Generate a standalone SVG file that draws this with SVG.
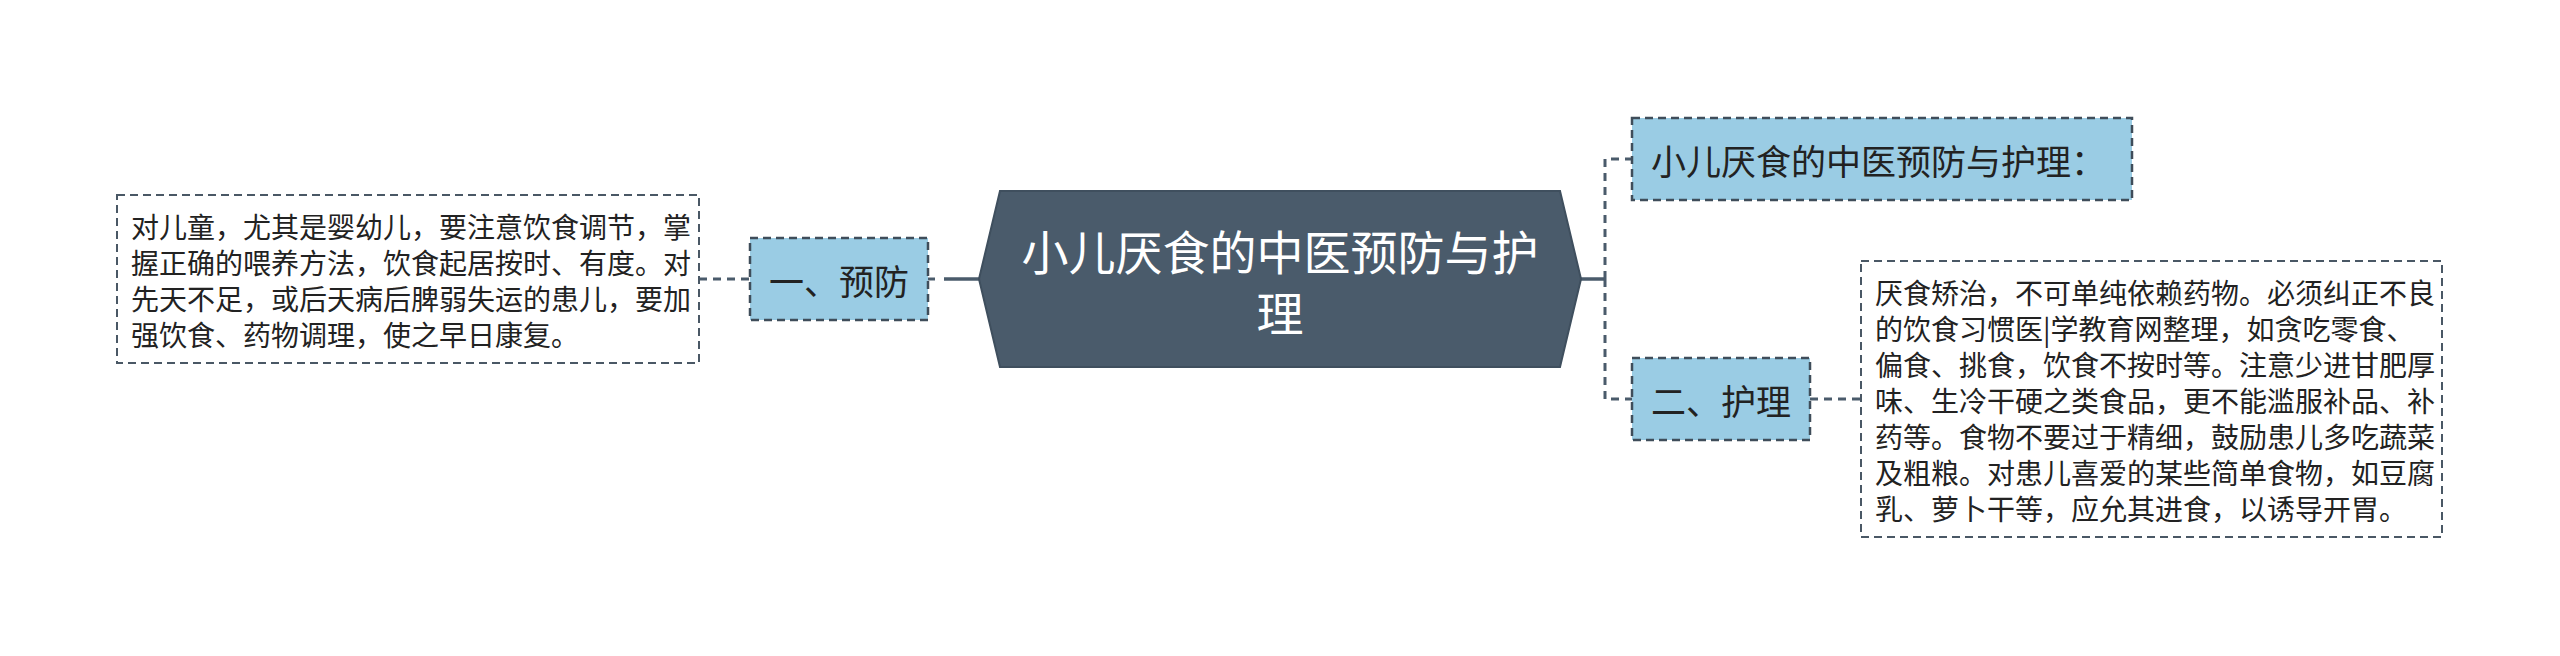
<svg xmlns="http://www.w3.org/2000/svg" width="2560" height="656" viewBox="0 0 2560 656">
<style>
text{font-family:"Noto Sans CJK SC","Noto Sans",sans-serif;dominant-baseline:central}
.blue{fill:#9acce4;stroke:#3f4d5a;stroke-width:2.5;stroke-dasharray:8 5}
.note{fill:#ffffff;stroke:#4a5865;stroke-width:2;stroke-dasharray:8 5}
.lbl{font-size:35px;fill:#222222}
.body{font-size:28px;fill:#222222}
.root{font-size:47px;fill:#ffffff;text-anchor:middle}
.dash{fill:none;stroke:#4a5b6b;stroke-width:3;stroke-dasharray:8 6}
.solid{fill:none;stroke:#4a5b6b;stroke-width:3.5}
</style>
<rect width="2560" height="656" fill="#ffffff"/>
<g id="connectors">
<path class="solid" d="M944,279 H980"/>
<path class="dash" d="M928,279 H944" style="stroke-dasharray:7 9"/>
<path class="dash" d="M699,279 H750"/>
<path class="solid" d="M1580,279 H1605"/>
<path class="dash" d="M1605,279 V159 H1632"/>
<path class="dash" d="M1605,279 V399 H1632"/>
<path class="dash" d="M1810,399 H1861"/>
</g>
<g id="root">
<polygon points="979,279 1000,191 1560,191 1581,279 1560,367 1000,367" fill="#4a5b6b" stroke="#3f4f5e" stroke-width="2"/>
<text class="root" x="1280" y="249">小儿厌食的中医预防与护</text>
<text class="root" x="1280" y="310">理</text>
</g>
<g id="node-yufang">
<rect class="blue" x="750" y="238" width="178" height="82"/>
<text class="lbl" x="769" y="279">一、预防</text>
</g>
<g id="note-yufang">
<rect class="note" x="117" y="195" width="582" height="168"/>
<text class="body" x="131" y="226">对儿童，尤其是婴幼儿，要注意饮食调节，掌</text>
<text class="body" x="131" y="262">握正确的喂养方法，饮食起居按时、有度。对</text>
<text class="body" x="131" y="298">先天不足，或后天病后脾弱失运的患儿，要加</text>
<text class="body" x="131" y="334">强饮食、药物调理，使之早日康复。</text>
</g>
<g id="node-title">
<rect class="blue" x="1632" y="118" width="500" height="82"/>
<text class="lbl" x="1651" y="159">小儿厌食的中医预防与护理：</text>
</g>
<g id="node-huli">
<rect class="blue" x="1632" y="358" width="178" height="82"/>
<text class="lbl" x="1651" y="399">二、护理</text>
</g>
<g id="note-huli">
<rect class="note" x="1861" y="261" width="581" height="276"/>
<text class="body" x="1875" y="292">厌食矫治，不可单纯依赖药物。必须纠正不良</text>
<text class="body" x="1875" y="328">的饮食习惯医|学教育网整理，如贪吃零食、</text>
<text class="body" x="1875" y="364">偏食、挑食，饮食不按时等。注意少进甘肥厚</text>
<text class="body" x="1875" y="400">味、生冷干硬之类食品，更不能滥服补品、补</text>
<text class="body" x="1875" y="436">药等。食物不要过于精细，鼓励患儿多吃蔬菜</text>
<text class="body" x="1875" y="472">及粗粮。对患儿喜爱的某些简单食物，如豆腐</text>
<text class="body" x="1875" y="508">乳、萝卜干等，应允其进食，以诱导开胃。</text>
</g>
</svg>
